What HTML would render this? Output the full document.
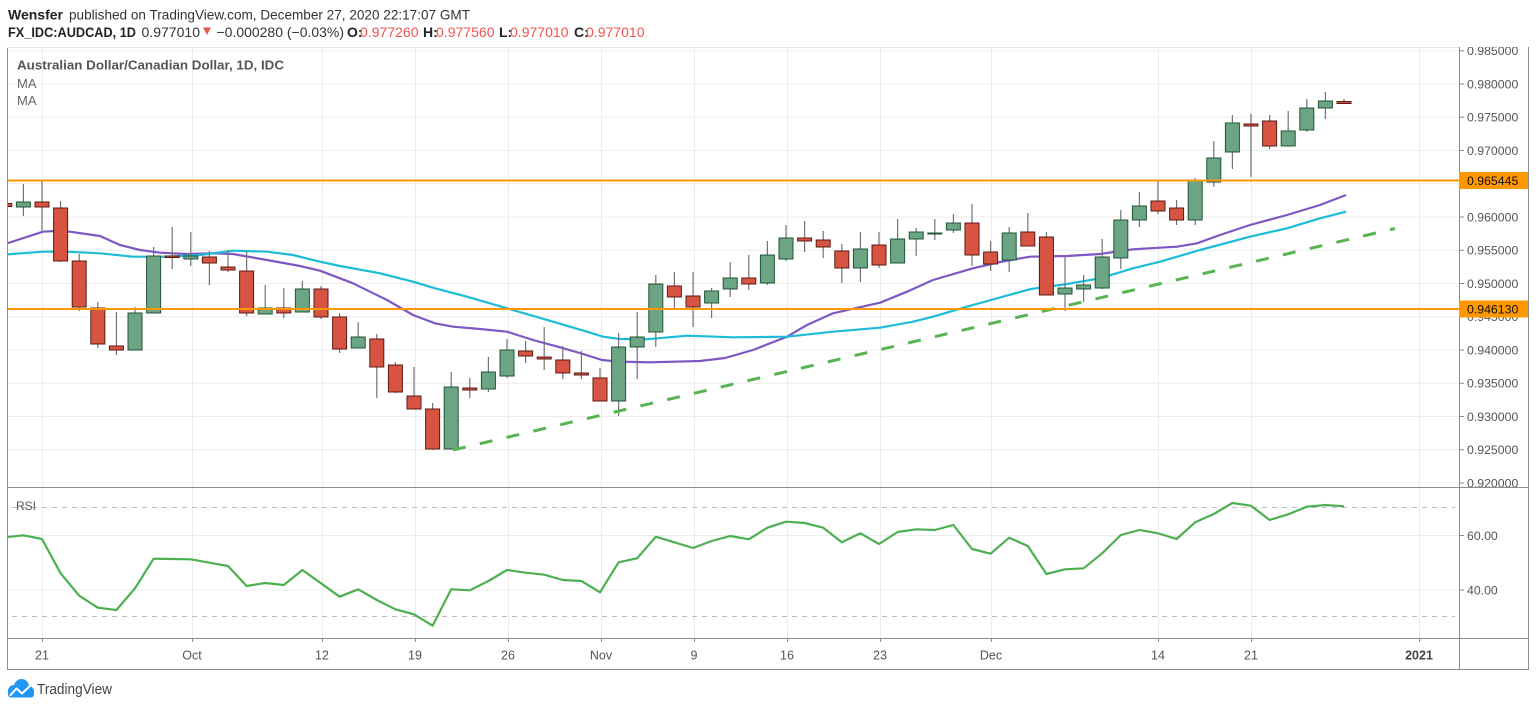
<!DOCTYPE html>
<html>
<head>
<meta charset="utf-8">
<style>
  html,body{margin:0;padding:0;background:#fff;}
  body{width:1536px;height:709px;overflow:hidden;}
  svg{display:block;}
  text{font-family:"Liberation Sans",sans-serif;}
</style>
</head>
<body>
<svg width="1536" height="709" viewBox="0 0 1536 709" xmlns="http://www.w3.org/2000/svg">
  <defs>
    <clipPath id="cmain"><rect x="7" y="47" width="1452" height="440"/></clipPath>
    <clipPath id="crsi"><rect x="7" y="487" width="1452" height="151"/></clipPath>
    <clipPath id="caxis"><rect x="1459" y="47" width="69" height="440"/></clipPath>
  </defs>

  <!-- Header -->
  <text x="8" y="19.5" font-size="14" fill="#222"><tspan font-weight="bold">Wensfer</tspan></text>
  <text x="69" y="19.5" font-size="14" fill="#333" textLength="401" lengthAdjust="spacingAndGlyphs">published on TradingView.com, December 27, 2020 22:17:07 GMT</text>

  <text x="8" y="37" font-size="14" font-weight="bold" fill="#222" textLength="128" lengthAdjust="spacingAndGlyphs">FX_IDC:AUDCAD, 1D</text>
  <text x="141.5" y="37" font-size="14" fill="#333" textLength="58.5" lengthAdjust="spacingAndGlyphs">0.977010</text>
  <polygon points="203,27.5 211,27.5 207,35" fill="#ef5350"/>
  <text x="216.5" y="37" font-size="14" fill="#333" textLength="127.5" lengthAdjust="spacingAndGlyphs">−0.000280 (−0.03%)</text>
  <text x="347" y="37" font-size="14" font-weight="bold" fill="#222">O:</text>
  <text x="360" y="37" font-size="14" fill="#ef5350" textLength="58.5" lengthAdjust="spacingAndGlyphs">0.977260</text>
  <text x="423" y="37" font-size="14" font-weight="bold" fill="#222">H:</text>
  <text x="436" y="37" font-size="14" fill="#ef5350" textLength="58.5" lengthAdjust="spacingAndGlyphs">0.977560</text>
  <text x="499" y="37" font-size="14" font-weight="bold" fill="#222">L:</text>
  <text x="510" y="37" font-size="14" fill="#ef5350" textLength="58.5" lengthAdjust="spacingAndGlyphs">0.977010</text>
  <text x="574" y="37" font-size="14" font-weight="bold" fill="#222">C:</text>
  <text x="586" y="37" font-size="14" fill="#ef5350" textLength="58.5" lengthAdjust="spacingAndGlyphs">0.977010</text>

  <!-- Main pane grid -->
  <g stroke="#ececec" stroke-width="1" clip-path="url(#cmain)">
    <path d="M7 50.75H1459M7 84H1459M7 117.25H1459M7 150.5H1459M7 183.75H1459M7 217H1459M7 250.25H1459M7 283.5H1459M7 316.75H1459M7 350H1459M7 383.25H1459M7 416.5H1459M7 449.75H1459M7 483H1459"/>
    <path d="M42.5 47V487M192.5 47V487M322.5 47V487M415.5 47V487M508.5 47V487M601.5 47V487M694.5 47V487M787.5 47V487M880.5 47V487M991.5 47V487M1158.5 47V487M1251.5 47V487M1419.5 47V487"/>
  </g>
  <!-- RSI grid -->
  <g clip-path="url(#crsi)">
    <path d="M42.5 487V638M192.5 487V638M322.5 487V638M415.5 487V638M508.5 487V638M601.5 487V638M694.5 487V638M787.5 487V638M880.5 487V638M991.5 487V638M1158.5 487V638M1251.5 487V638M1419.5 487V638" stroke="#ececec" stroke-width="1"/>
    <path d="M7 535.5H1459M7 590H1459" stroke="#ececec" stroke-width="1"/>
    <path d="M12 507.5H1455M12 616.5H1455" stroke="#bdbdbd" stroke-width="1" stroke-dasharray="5 5"/>
  </g>

  <!-- Main pane content -->
  <g clip-path="url(#cmain)">
    <!-- MA purple -->
    <polyline fill="none" stroke="#7e57c2" stroke-width="2.2" stroke-linejoin="round" points="5,244 43,231.7 55,231 70,231.7 100,236 120,245 140,250 160,252.7 187,254 213,253.3 233,254 267,260 300,266 320,270.7 353,283.3 387,300 413,315 435,323.3 453,326.7 480,329 507,331.7 533,340 560,347.3 583,354 602,360 620,361.7 650,362.3 700,361 725,358 753,350 787,336.7 807,325 833,313.3 880,302.7 907,291.7 933,280 973,268.3 1000,262 1030,256.7 1067,256 1100,254 1133,249.3 1177,246.7 1197,243.3 1220,235 1250,225 1287,215 1320,205 1346,195"/>
    <!-- MA cyan -->
    <polyline fill="none" stroke="#1cbcd8" stroke-width="2.2" stroke-linejoin="round" points="5,254.5 43,251.7 67,251.7 100,253.3 133,256.7 167,256.7 200,255 233,250.7 267,251.7 293,255 320,261.7 340,266 380,273.3 413,281.7 435,288.3 467,296.7 507,308.3 553,321.7 587,331.7 603,336.7 620,339 646,339.3 687,335.7 733,337.3 787,336.7 833,331.7 880,327.7 913,321.7 933,316.7 967,306.7 1000,297.5 1030,289.2 1067,284 1100,278.3 1133,268.3 1160,261.7 1200,250 1250,236.7 1287,228.3 1320,218.3 1346,211.7"/>

    <!-- Wicks -->
    <path fill="none" stroke="#737375" stroke-width="1.2" d="M4.8 201V208M23.4 184V216M42 180V232M60.6 201V262M79.2 254V311M97.8 302V348M116.4 312V355M135 307V350M153.6 247V313M172.2 227V269M190.8 232V266M209.4 251V285M228 250V272M246.6 251V316M265.2 285V314M283.8 288V318M302.4 281V312M321 286V319M339.6 313V353M358.2 322V348M376.8 334V398M395.4 362V393M414 367V409M432.6 403V450M451.2 372V450M469.8 378V398M488.4 357V392M507 339V378M525.6 341V363M544.2 327V370M562.8 346V379M581.4 351V379M600 368V401M618.6 333V416M637.2 312V379M655.8 275V347M674.4 272V309M693 272V327M711.6 288V318M730.2 262V297M748.8 255V290M767.4 241V285M786 225V261M804.6 221V252M823.2 231V258M841.8 244V283M860.4 232V282M879 232V268M897.6 219V263M916.2 228V256M934.8 219V240M953.4 214V233M972 204V266M990.6 241V271M1009.2 227V272M1027.8 213V246M1046.4 232V295M1065 257V311M1083.6 275V302M1102.2 239V289M1120.8 210V269M1139.4 192V227M1158 181V214M1176.6 200V225M1195.2 178V225M1213.8 141V187M1232.4 115V169M1251 114V177M1269.6 115V149M1288.2 111V146M1306.8 99V132M1325.4 92V119M1344 99V104"/>

    <!-- Up candles -->
    <g fill="#6ba583" stroke="#225437" stroke-width="1">
      <rect x="16.4" y="202" width="14" height="5"/>
      <rect x="128" y="313" width="14" height="37"/>
      <rect x="146.6" y="256" width="14" height="57"/>
      <rect x="183.8" y="256" width="14" height="3"/>
      <rect x="258.2" y="308" width="14" height="6"/>
      <rect x="295.4" y="289" width="14" height="23"/>
      <rect x="351.2" y="337" width="14" height="11"/>
      <rect x="444.2" y="387" width="14" height="62"/>
      <rect x="481.4" y="372" width="14" height="17"/>
      <rect x="500" y="350" width="14" height="26"/>
      <rect x="611.6" y="347" width="14" height="54"/>
      <rect x="630.2" y="337" width="14" height="10"/>
      <rect x="648.8" y="284" width="14" height="48"/>
      <rect x="704.6" y="291" width="14" height="12"/>
      <rect x="723.2" y="278" width="14" height="11"/>
      <rect x="760.4" y="255" width="14" height="28"/>
      <rect x="779" y="238" width="14" height="21"/>
      <rect x="853.4" y="249" width="14" height="19"/>
      <rect x="890.6" y="239" width="14" height="24"/>
      <rect x="909.2" y="232" width="14" height="7"/>
      <rect x="927.8" y="233" width="14" height="1"/>
      <rect x="946.4" y="223" width="14" height="7"/>
      <rect x="1002.2" y="233" width="14" height="27"/>
      <rect x="1058" y="288" width="14" height="6"/>
      <rect x="1076.6" y="285" width="14" height="4"/>
      <rect x="1095.2" y="257" width="14" height="31"/>
      <rect x="1113.8" y="220" width="14" height="38"/>
      <rect x="1132.4" y="206" width="14" height="14"/>
      <rect x="1188.2" y="181" width="14" height="39"/>
      <rect x="1206.8" y="158" width="14" height="24"/>
      <rect x="1225.4" y="123" width="14" height="29"/>
      <rect x="1281.2" y="131" width="14" height="15"/>
      <rect x="1299.8" y="108" width="14" height="22"/>
      <rect x="1318.4" y="101" width="14" height="7"/>
    </g>
    <!-- Down candles -->
    <g fill="#d75442" stroke="#5b1a13" stroke-width="1">
      <rect x="-2.2" y="203.5" width="14" height="3"/>
      <rect x="35" y="202" width="14" height="5"/>
      <rect x="53.6" y="208" width="14" height="53"/>
      <rect x="72.2" y="261" width="14" height="46"/>
      <rect x="90.8" y="308" width="14" height="36"/>
      <rect x="109.4" y="346" width="14" height="4"/>
      <rect x="165.2" y="256" width="14" height="1.5"/>
      <rect x="202.4" y="257" width="14" height="6"/>
      <rect x="221" y="267" width="14" height="3"/>
      <rect x="239.6" y="271" width="14" height="42"/>
      <rect x="276.8" y="308" width="14" height="5"/>
      <rect x="314" y="289" width="14" height="28"/>
      <rect x="332.6" y="317" width="14" height="32"/>
      <rect x="369.8" y="339" width="14" height="28"/>
      <rect x="388.4" y="365" width="14" height="27"/>
      <rect x="407" y="396" width="14" height="13"/>
      <rect x="425.6" y="409" width="14" height="40"/>
      <rect x="462.8" y="388" width="14" height="2"/>
      <rect x="518.6" y="351" width="14" height="5"/>
      <rect x="537.2" y="357" width="14" height="2"/>
      <rect x="555.8" y="360" width="14" height="13"/>
      <rect x="574.4" y="373" width="14" height="2"/>
      <rect x="593" y="378" width="14" height="23"/>
      <rect x="667.4" y="286" width="14" height="11"/>
      <rect x="686" y="296" width="14" height="11"/>
      <rect x="741.8" y="278" width="14" height="6"/>
      <rect x="797.6" y="238" width="14" height="3"/>
      <rect x="816.2" y="240" width="14" height="7"/>
      <rect x="834.8" y="251" width="14" height="17"/>
      <rect x="872" y="245" width="14" height="20"/>
      <rect x="965" y="223" width="14" height="32"/>
      <rect x="983.6" y="252" width="14" height="12"/>
      <rect x="1020.8" y="232" width="14" height="14"/>
      <rect x="1039.4" y="237" width="14" height="58"/>
      <rect x="1151" y="201" width="14" height="10"/>
      <rect x="1169.6" y="208" width="14" height="12"/>
      <rect x="1244" y="124" width="14" height="2"/>
      <rect x="1262.6" y="121" width="14" height="25"/>
      <rect x="1337" y="101.5" width="14" height="2"/>
    </g>

    <!-- Dashed trendline -->
    <line x1="453" y1="450" x2="1395" y2="228.5" stroke="#58b352" stroke-width="3" stroke-dasharray="13 14.5"/>

    <!-- Orange horizontal levels -->
    <line x1="7" y1="180.5" x2="1459" y2="180.5" stroke="#ff9800" stroke-width="2"/>
    <line x1="7" y1="309" x2="1459" y2="309" stroke="#ff9800" stroke-width="2"/>
  </g>

  <!-- Legend text -->
  <text x="17" y="69.5" font-size="13" font-weight="bold" fill="#555" textLength="267" lengthAdjust="spacingAndGlyphs">Australian Dollar/Canadian Dollar, 1D, IDC</text>
  <text x="17" y="88" font-size="13" fill="#666">MA</text>
  <text x="17" y="105" font-size="13" fill="#666">MA</text>

  <!-- RSI -->
  <g clip-path="url(#crsi)">
    <polyline fill="none" stroke="#4caf50" stroke-width="2.2" stroke-linejoin="round" points="4.8,537.3 23.4,535.3 42,539 60.6,573.3 79.2,595.7 97.8,607.7 116.4,610 135,588.3 153.6,558.7 172.2,559 190.8,559.3 209.4,562.7 228,566 246.6,586 265.2,583 283.8,585 302.4,570 321,583.3 339.6,596.7 358.2,589.3 376.8,600 395.4,609.3 414,614.3 432.6,625.7 451.2,589.3 469.8,590.3 488.4,581 507,570 525.6,572.7 544.2,574.7 562.8,580 581.4,581 600,592.3 618.6,562.3 637.2,558.3 655.8,536.7 674.4,542.3 693,548 711.6,541 730.2,536 748.8,539.3 767.4,527.7 786,521.7 804.6,523 823.2,527.7 841.8,542.3 860.4,533.3 879,544 897.6,532 916.2,529.3 934.8,530 953.4,525 972,549 990.6,553.7 1009.2,537.7 1027.8,546 1046.4,574 1065,569.3 1083.6,568.3 1102.2,553.3 1120.8,535 1139.4,530 1158,533.3 1176.6,539 1195.2,522.3 1213.8,514 1232.4,503 1251,505.7 1269.6,520 1288.2,514.3 1306.8,506.7 1325.4,505 1344,506.3"/>
  </g>
  <text x="16" y="510" font-size="12" fill="#555">RSI</text>

  <!-- Frame lines -->
  <g stroke="#8c8c8c" stroke-width="1" fill="none">
    <path d="M7.5 47V669.5"/>
    <path d="M1459.5 47V669.5"/>
    <path d="M1528.5 47V669.5"/>
    <path d="M7 487.5H1529"/>
    <path d="M7 638.5H1529"/>
    <path d="M7 669.5H1529"/>
  </g>
  <path d="M7 47.5H1459" stroke="#e6e6e6" stroke-width="1"/>

  <!-- Price axis -->
  <g clip-path="url(#caxis)">
    <g stroke="#8c8c8c" stroke-width="1">
      <path d="M1459 50.75h5M1459 84h5M1459 117.25h5M1459 150.5h5M1459 217h5M1459 250.25h5M1459 283.5h5M1459 350h5M1459 383.25h5M1459 416.5h5M1459 449.75h5M1459 483h5M1459 316.75h5"/>
    </g>
    <g font-size="12.3" fill="#555">
      <text x="1467" y="55">0.985000</text>
      <text x="1467" y="88.3">0.980000</text>
      <text x="1467" y="121.5">0.975000</text>
      <text x="1467" y="154.8">0.970000</text>
      <text x="1467" y="221.3">0.960000</text>
      <text x="1467" y="254.5">0.955000</text>
      <text x="1467" y="287.8">0.950000</text>
      <text x="1467" y="321">0.945000</text>
      <text x="1467" y="354.3">0.940000</text>
      <text x="1467" y="387.5">0.935000</text>
      <text x="1467" y="420.8">0.930000</text>
      <text x="1467" y="454">0.925000</text>
      <text x="1467" y="487.3">0.920000</text>
    </g>
    <rect x="1459" y="172" width="69" height="17" fill="#ff9800"/>
    <text x="1467" y="185" font-size="12.3" fill="#111">0.965445</text>
    <rect x="1459" y="300.5" width="69" height="17" fill="#ff9800"/>
    <text x="1467" y="313.5" font-size="12.3" fill="#111">0.946130</text>
  </g>

  <!-- RSI axis -->
  <g stroke="#8c8c8c" stroke-width="1"><path d="M1459 535.5h5M1459 590h5"/></g>
  <text x="1467" y="540" font-size="12.3" fill="#555">60.00</text>
  <text x="1467" y="594.5" font-size="12.3" fill="#555">40.00</text>

  <!-- Time axis -->
  <g stroke="#8c8c8c" stroke-width="1">
    <path d="M42.5 638V642M192.5 638V642M322.5 638V642M415.5 638V642M508.5 638V642M601.5 638V642M694.5 638V642M787.5 638V642M880.5 638V642M991.5 638V642M1158.5 638V642M1251.5 638V642M1419.5 638V642"/>
  </g>
  <g font-size="12.5" fill="#555" text-anchor="middle">
    <text x="42" y="659.5">21</text>
    <text x="192" y="659.5">Oct</text>
    <text x="322" y="659.5">12</text>
    <text x="415" y="659.5">19</text>
    <text x="508" y="659.5">26</text>
    <text x="601" y="659.5">Nov</text>
    <text x="694" y="659.5">9</text>
    <text x="787" y="659.5">16</text>
    <text x="880" y="659.5">23</text>
    <text x="991" y="659.5">Dec</text>
    <text x="1158" y="659.5">14</text>
    <text x="1251" y="659.5">21</text>
    <text x="1419" y="659.5" font-weight="bold" fill="#444">2021</text>
  </g>

  <!-- TradingView logo -->
  <g>
    <circle cx="14" cy="691" r="6" fill="#2196f3"/>
    <circle cx="21.5" cy="686.5" r="7.5" fill="#2196f3"/>
    <circle cx="28.5" cy="691.5" r="5.5" fill="#2196f3"/>
    <rect x="8" y="690" width="26" height="7.5" rx="3" fill="#2196f3"/>
    <polyline points="10.5,695 16.5,688.5 22,693.5 30.5,685.5" fill="none" stroke="#fff" stroke-width="2" stroke-linejoin="round" stroke-linecap="round"/>
  </g>
  <text x="37" y="694" font-size="15" fill="#444" textLength="75" lengthAdjust="spacingAndGlyphs">TradingView</text>
</svg>
</body>
</html>
